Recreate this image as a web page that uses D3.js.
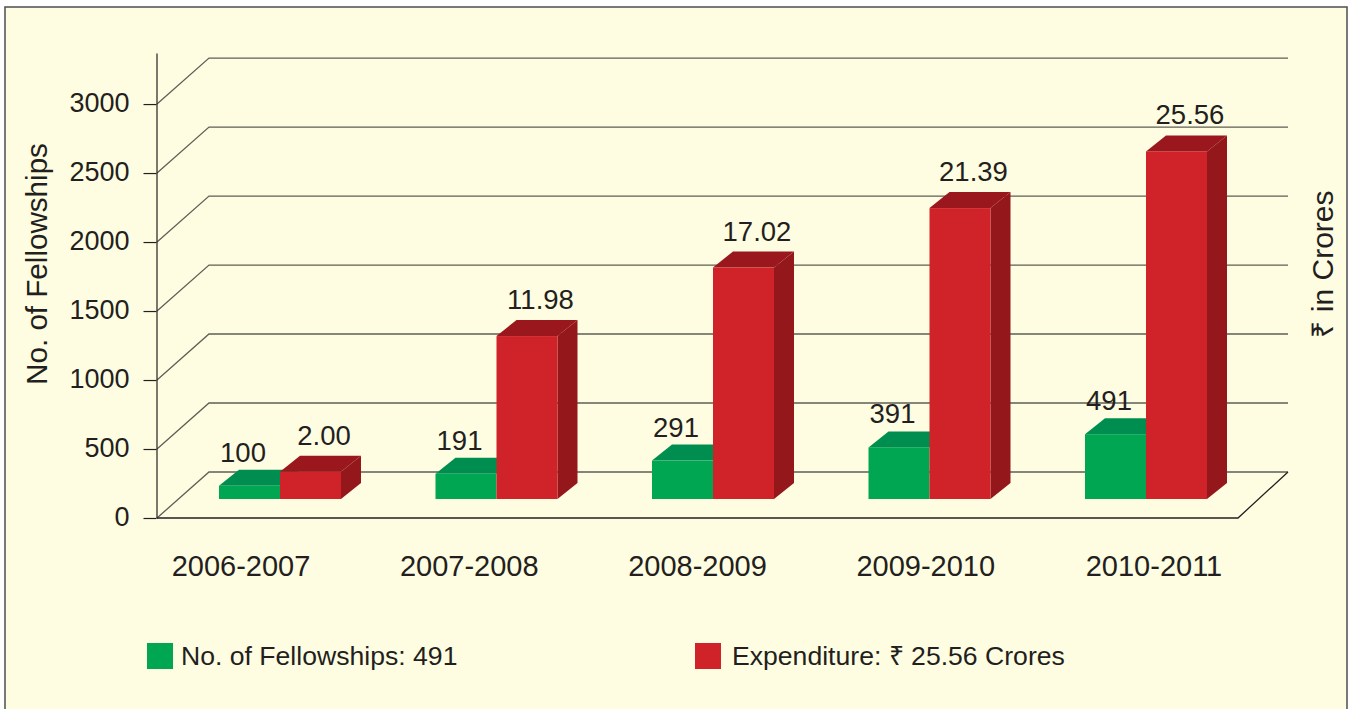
<!DOCTYPE html>
<html>
<head>
<meta charset="utf-8">
<script src="https://cdn.jsdelivr.net/npm/d3@7"></script>
<style>
    html, body { margin: 0; padding: 0; background: #fff; overflow: hidden; }
    text { font-family: "Liberation Sans", Arial, sans-serif; fill: #231f20; }
</style>
</head>
<body>
<svg id="chart" width="1350" height="709"></svg>
<script>
const categories = ["2006-2007", "2007-2008", "2008-2009", "2009-2010", "2010-2011"];
const fellowships = [100, 191, 291, 391, 491];
const expenditure = [2.00, 11.98, 17.02, 21.39, 25.56];
const axisTicks = [0, 500, 1000, 1500, 2000, 2500, 3000];
const legendLabels = ["No. of Fellowships: 491", "Expenditure: ₹ 25.56 Crores"];

const GREEN = "#00a651", GREEN_TOP = "#008e50";
const RED = "#cf2229", RED_TOP = "#9a171e", RED_SIDE = "#94181b";

const svg = d3.select("#chart");

// Panel behind the chart
svg.append("rect")
    .attr("x", 5).attr("y", 7)
    .attr("width", 1342).attr("height", 720)
    .attr("fill", "#fffde1")
    .attr("stroke", "#58585a")
    .attr("stroke-width", 1.6);

// Scales
const y = d3.scaleLinear().domain([0, 3370]).range([518, 53]);
const yFellow = d3.scaleLinear().domain([0, 3000]).range([499, 103]);
const yCrore = d3.scaleLinear().domain([0, 30]).range([499, 91]);
const xGroup = d3.scalePoint().domain(categories).range([280, 1146]);
const xLabel = d3.scalePoint().domain(categories).range([241, 1154]);

const barWidth = 61;
const depthX = 20, depthY = 16;     // bar depth
const backX = 52, backY = 46;       // wall depth
const axisX = 157, floorRight = 1238;
const wallRight = 1288;

// Back wall gridlines with their diagonal to the axis
const grid = svg.append("g").attr("class", "grid").attr("fill", "none");
axisTicks.forEach(t => {
    grid.append("path")
        .attr("d", d3.line()([
            [axisX, y(t)],
            [axisX + backX, y(t) - backY],
            [wallRight, y(t) - backY]
        ]))
        .attr("stroke", "#5f5f55")
        .attr("stroke-width", 1.3);
});

// Floor edge
grid.append("path")
    .attr("d", d3.line()([
        [axisX, y(0)],
        [floorRight, y(0)],
        [wallRight, y(0) - backY]
    ]))
    .attr("stroke", "#231f20")
    .attr("stroke-width", 1.3);

// Y axis
const axis = svg.append("g")
    .attr("transform", `translate(${axisX - 0.5},0)`)
    .call(d3.axisLeft(y)
        .tickValues(axisTicks)
        .tickFormat(d3.format("d"))
        .tickSize(13)
        .tickSizeOuter(0)
        .tickPadding(14));
axis.selectAll("path, line").attr("stroke", "#231f20").attr("stroke-width", 1.2);
axis.selectAll("text")
    .attr("font-size", 27)
    .attr("dy", "0.28em")
    .style("font-family", '"Liberation Sans", Arial, sans-serif');

// One 3D bar: top, side, then front
function drawBar(g, left, top, colors) {
    const base = 499;
    const right = left + barWidth;
    g.append("polygon")
        .attr("points", [[left, top], [left + depthX, top - depthY], [right + depthX, top - depthY], [right, top]].join(" "))
        .attr("fill", colors.top);
    if (colors.side) {
        g.append("polygon")
            .attr("points", [[right, top], [right + depthX, top - depthY], [right + depthX, base - depthY], [right, base]].join(" "))
            .attr("fill", colors.side);
    }
    g.append("rect")
        .attr("x", left).attr("y", top)
        .attr("width", barWidth).attr("height", base - top)
        .attr("fill", colors.front);
}

const bars = svg.append("g").attr("class", "bars");
categories.forEach((c, i) => {
    const g = bars.append("g");
    const mid = xGroup(c);
    const topG = yFellow(fellowships[i]);
    const topR = yCrore(expenditure[i]);

    drawBar(g, mid - barWidth, topG, { front: GREEN, top: GREEN_TOP });
    drawBar(g, mid, topR, { front: RED, top: RED_TOP, side: RED_SIDE });

    g.append("text")
        .attr("x", mid - barWidth + 24).attr("y", topG - 24)
        .attr("text-anchor", "middle").attr("font-size", 27.5)
        .text(fellowships[i]);
    g.append("text")
        .attr("x", mid + 44).attr("y", topR - 27)
        .attr("text-anchor", "middle").attr("font-size", 27.5)
        .text(expenditure[i].toFixed(2));
});

// Category labels
svg.append("g").selectAll("text")
    .data(categories)
    .join("text")
    .attr("x", d => xLabel(d))
    .attr("y", 576)
    .attr("text-anchor", "middle")
    .attr("font-size", 29)
    .text(d => d);

// Axis titles
svg.append("text")
    .attr("transform", "translate(47,264) rotate(-90)")
    .attr("text-anchor", "middle")
    .attr("font-size", 29.6)
    .text("No. of Fellowships");

svg.append("text")
    .attr("transform", "translate(1333,264) rotate(-90)")
    .attr("text-anchor", "middle")
    .attr("font-size", 30)
    .text("₹ in Crores");

// Legend
const legendX = d3.scaleOrdinal().domain(legendLabels).range([147, 695]);
const legend = svg.append("g").selectAll("g")
    .data(legendLabels)
    .join("g")
    .attr("transform", d => `translate(${legendX(d)},643)`);
legend.append("rect")
    .attr("width", 26).attr("height", 26)
    .attr("fill", (d, i) => i === 0 ? GREEN : RED);
legend.append("text")
    .attr("x", (d, i) => i === 0 ? 34 : 37)
    .attr("y", 22)
    .attr("font-size", 26.6)
    .text(d => d);
</script>
</body>
</html>
